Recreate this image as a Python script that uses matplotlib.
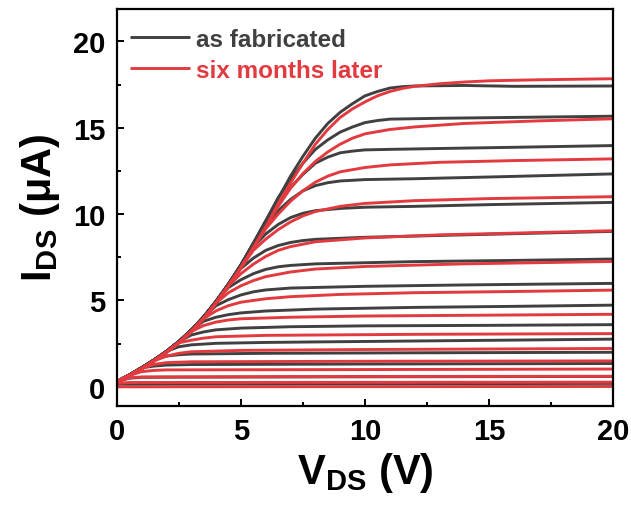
import matplotlib
matplotlib.use("Agg")
import numpy as np
import matplotlib.pyplot as plt
from matplotlib.ticker import MultipleLocator

# shared rising part of the output curves
vds_env = [0, 0.5, 1, 1.5, 2, 2.5, 3, 3.5, 4, 4.5, 5, 5.5, 6, 6.5, 7, 7.5, 8]
black_env = [0.3, 0.68, 1.1, 1.55, 2.05, 2.62, 3.28, 4.05, 4.95, 5.95, 7.05,
             8.3, 9.6, 10.9, 12.15, 13.35, 14.4]
red_env = [0.3, 0.65, 1.05, 1.5, 2.0, 2.55, 3.2, 3.95, 4.85, 5.85, 6.9,
           8.05, 9.25, 10.6, 11.8, 12.95, 14.05]

# each curve leaves the common envelope and goes on with these (Vds, Ids) points
black_tails = [
    [(7, 12.2), (7.5, 13.35), (8, 14.4), (8.5, 15.25), (9, 15.9), (9.5, 16.4), (10, 16.85),
     (10.5, 17.1), (11, 17.3), (11.5, 17.38), (12, 17.42), (14, 17.45), (16, 17.4), (20, 17.42)],
    [(6.5, 10.95), (7, 12.0), (7.5, 12.95), (8, 13.75), (8.5, 14.3), (9, 14.75), (9.5, 15.05),
     (10, 15.3), (10.5, 15.42), (11, 15.5), (13, 15.55), (16, 15.6), (20, 15.67)],
    [(6.5, 10.6), (7, 11.55), (7.5, 12.3), (8, 12.95), (8.5, 13.3), (9, 13.55), (9.5, 13.65),
     (10, 13.72), (11, 13.75), (13, 13.8), (16, 13.87), (20, 13.97)],
    [(6, 9.35), (6.5, 10.2), (7, 10.85), (7.5, 11.35), (8, 11.65), (8.5, 11.82), (9, 11.92),
     (10, 12.0), (12, 12.05), (15, 12.15), (20, 12.33)],
    [(5.5, 8.1), (6, 8.85), (6.5, 9.4), (7, 9.8), (7.5, 10.05), (8, 10.2), (9, 10.33),
     (10, 10.4), (12, 10.45), (15, 10.55), (20, 10.68)],
    [(5, 6.85), (5.5, 7.45), (6, 7.9), (6.5, 8.18), (7, 8.36), (7.5, 8.47), (8, 8.54),
     (10, 8.66), (14, 8.8), (20, 9.0)],
    [(4.5, 5.75), (5, 6.2), (5.5, 6.55), (6, 6.8), (6.5, 6.95), (7, 7.03), (8, 7.12),
     (12, 7.25), (16, 7.32), (20, 7.4)],
    [(4, 4.7), (4.5, 5.05), (5, 5.32), (5.5, 5.5), (6, 5.61), (7, 5.72), (10, 5.82),
     (14, 5.9), (20, 5.99)],
    [(3.5, 3.8), (4, 4.03), (4.5, 4.18), (5, 4.28), (6, 4.39), (8, 4.5), (12, 4.6),
     (16, 4.66), (20, 4.73)],
    [(3, 3.0), (3.5, 3.18), (4, 3.3), (5, 3.4), (7, 3.48), (10, 3.53), (15, 3.56), (20, 3.6)],
    [(2.5, 2.32), (3, 2.43), (4, 2.52), (6, 2.57), (8, 2.6), (14, 2.68), (20, 2.76)],
    [(2, 1.78), (2.5, 1.86), (3, 1.9), (6, 1.94), (12, 1.97), (20, 2.0)],
    [(1.5, 1.2), (2, 1.26), (3, 1.29), (10, 1.32), (20, 1.35)],
    [(0.5, 0.5), (1, 0.55), (2, 0.56), (10, 0.58), (20, 0.6)],
    [(0, 0.15), (20, 0.2)],
]

red_tails = [
    [(8.5, 14.9), (9, 15.6), (9.5, 16.1), (10, 16.5), (10.5, 16.85), (11, 17.1), (11.5, 17.28),
     (12, 17.4), (13, 17.55), (14, 17.65), (15, 17.72), (17, 17.78), (20, 17.84)],
    [(6.5, 10.45), (7, 11.5), (7.5, 12.35), (8, 13.05), (8.5, 13.6), (9, 14.05), (9.5, 14.4),
     (10, 14.65), (11, 14.9), (12, 15.05), (14, 15.25), (17, 15.4), (20, 15.52)],
    [(6, 9.15), (6.5, 10.0), (7, 10.75), (7.5, 11.35), (8, 11.85), (8.5, 12.2), (9, 12.45),
     (10, 12.7), (11, 12.85), (13, 13.0), (16, 13.1), (20, 13.2)],
    [(5.5, 7.9), (6, 8.55), (6.5, 9.1), (7, 9.55), (7.5, 9.9), (8, 10.15), (9, 10.45),
     (10, 10.62), (12, 10.78), (15, 10.9), (20, 11.01)],
    [(5, 6.55), (5.5, 7.1), (6, 7.55), (6.5, 7.9), (7, 8.12), (8, 8.4), (10, 8.62),
     (13, 8.8), (16, 8.9), (20, 9.04)],
    [(4.5, 5.45), (5, 5.85), (5.5, 6.15), (6, 6.38), (7, 6.65), (8, 6.82), (10, 6.97),
     (14, 7.12), (20, 7.26)],
    [(4, 4.4), (4.5, 4.7), (5, 4.9), (6, 5.1), (7, 5.22), (9, 5.35), (12, 5.45),
     (16, 5.52), (20, 5.6)],
    [(3.5, 3.55), (4, 3.75), (4.5, 3.87), (5, 3.94), (7, 4.03), (10, 4.1), (15, 4.15), (20, 4.2)],
    [(3, 2.7), (3.5, 2.82), (4, 2.9), (6, 2.98), (12, 3.04), (20, 3.08)],
    [(2, 1.78), (2.5, 1.94), (3, 2.03), (5, 2.11), (10, 2.16), (20, 2.22)],
    [(1.5, 1.3), (2, 1.4), (3, 1.45), (10, 1.48), (20, 1.5)],
    [(1, 0.88), (1.5, 0.95), (2, 0.98), (10, 1.0), (20, 1.03)],
    [(0.5, 0.52), (1, 0.57), (10, 0.6), (20, 0.61)],
    [(0, 0.2), (0.5, 0.25), (20, 0.27)],
    [(0, 0.0), (20, 0.02)],
]

BLACK = "#404040"
RED = "#e23a3e"

plt.rcParams["font.family"] = ["Liberation Sans", "DejaVu Sans"]
plt.rcParams["mathtext.fontset"] = "custom"
plt.rcParams["mathtext.bf"] = "Liberation Sans:bold"
plt.rcParams["mathtext.rm"] = "Liberation Sans"


def build_curve(env_x, env_y, tail):
    x0 = tail[0][0]
    xs = [x for x in env_x if x < x0]
    ys = [y for x, y in zip(env_x, env_y) if x < x0]
    xs += [p[0] for p in tail]
    ys += [p[1] for p in tail]
    return xs, ys


fig = plt.figure(figsize=(6.31, 5.06), dpi=100)
ax = fig.add_axes([0.185, 0.196, 0.787, 0.785])

for i, tail in enumerate(black_tails):
    xs, ys = build_curve(vds_env, black_env, tail)
    ax.plot(xs, ys, color=BLACK, lw=2.1, solid_capstyle="butt",
            label="as fabricated" if i == 0 else None)
for i, tail in enumerate(red_tails):
    xs, ys = build_curve(vds_env, red_env, tail)
    ax.plot(xs, ys, color=RED, lw=2.1, solid_capstyle="butt",
            label="six months later" if i == 0 else None)

ax.set_xlim(0, 20)
ax.set_ylim(-1.1, 21.9)
ax.xaxis.set_major_locator(MultipleLocator(5))
ax.xaxis.set_minor_locator(MultipleLocator(2.5))
ax.yaxis.set_major_locator(MultipleLocator(5))
ax.yaxis.set_minor_locator(MultipleLocator(2.5))
ax.tick_params(which="both", direction="in", width=1.4, labelsize=21, pad=8)
ax.tick_params(which="major", length=5)
ax.tick_params(which="minor", length=3)
for lab in ax.get_xticklabels() + ax.get_yticklabels():
    lab.set_fontweight("bold")
for s in ax.spines.values():
    s.set_linewidth(1.6)

ax.set_xlabel(r"$\mathbf{V_{DS}}$ (V)", fontsize=30, fontweight="bold", labelpad=4)
ax.set_ylabel(r"$\mathbf{I_{DS}}$ ($\mathbf{\mu}$A)", fontsize=30, fontweight="bold", labelpad=8)

leg = ax.legend(loc="upper left", bbox_to_anchor=(0.0075, 0.976), frameon=False,
                handlelength=2.45, handletextpad=0.25, labelspacing=0.33,
                borderaxespad=0.0, prop={"weight": "bold", "size": 17.5})
for txt, c in zip(leg.get_texts(), [BLACK, RED]):
    txt.set_color(c)

fig.savefig("out.png", dpi=100)
